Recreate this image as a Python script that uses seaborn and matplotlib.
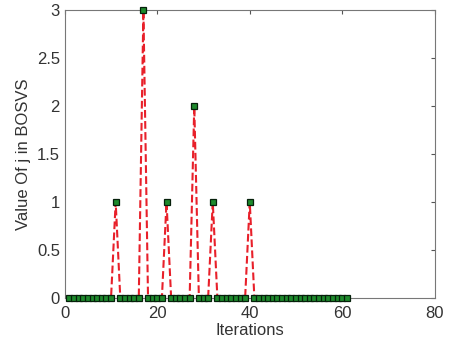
import numpy as np
import pandas as pd
import seaborn as sns
import matplotlib.pyplot as plt

iterations = list(range(1, 62))
spikes = {11: 1, 17: 3, 22: 1, 28: 2, 32: 1, 40: 1}
j_values = [spikes.get(i, 0) for i in iterations]

df = pd.DataFrame({'iter': iterations, 'j': j_values})

sns.set_style('white')
plt.rcParams['font.family'] = ['Arial', 'Liberation Sans', 'DejaVu Sans']

fig = plt.figure(figsize=(4.5, 3.42), dpi=100)
ax = fig.add_axes([0.144, 0.129, 0.822, 0.842])

sns.lineplot(data=df, x='iter', y='j', ax=ax, color='#e8202a', linestyle='--',
             linewidth=1.5, marker='s', markersize=4, markerfacecolor='#1e8a2c',
             markeredgecolor='#06200b', markeredgewidth=0.9, clip_on=False, zorder=5)

ax.set_xlim(0, 80)
ax.set_ylim(0, 3)
ax.set_xticks([0, 20, 40, 60, 80])
ax.set_yticks([0, 0.5, 1, 1.5, 2, 2.5, 3])
ax.set_yticklabels(['0', '0.5', '1', '1.5', '2', '2.5', '3'])
ax.set_xlabel('Iterations', fontsize=12, labelpad=1)
ax.set_ylabel('Value Of j in BOSVS', fontsize=12)
ax.tick_params(axis='x', pad=6)
ax.tick_params(direction='in', length=3, labelsize=12, color='#555555',
               top=True, right=True, labelcolor='#333333')
for s in ax.spines.values():
    s.set_color('#777777')
    s.set_linewidth(0.8)
ax.xaxis.label.set_color('#333333')
ax.yaxis.label.set_color('#333333')

fig.savefig('out.png', dpi=100)
